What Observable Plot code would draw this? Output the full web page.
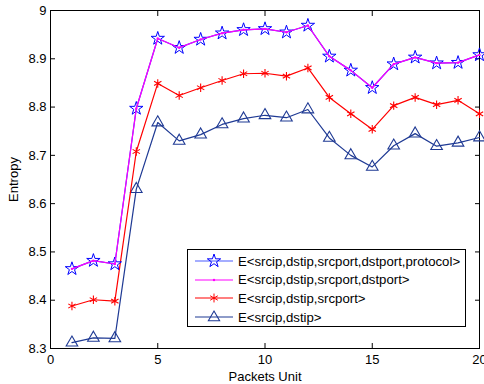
<!DOCTYPE html>
<html><head><meta charset="utf-8">
<script src="https://cdn.jsdelivr.net/npm/d3@7"></script>
<script src="https://cdn.jsdelivr.net/npm/@observablehq/plot@0.6"></script>
<style>
body{margin:0;background:#fff;font-family:"Liberation Sans",Arial,sans-serif;}
#wrap{position:relative;width:484px;height:384px;}
#legend{position:absolute;left:187px;top:249px;width:279px;height:78px;border:1px solid #000;background:#fff;box-sizing:border-box;font-size:13.2px;}
.row{position:absolute;left:0;height:16px;display:flex;align-items:center;white-space:nowrap;}
.row svg{margin-left:7px;margin-right:5px;flex:none;}
</style></head><body>
<div id="wrap"><div id="chart"></div><div id="legend"></div></div>
<script>
const packets = [1,2,3,4,5,6,7,8,9,10,11,12,13,14,15,16,17,18,19,20];
const e5 = [8.465,8.482,8.475,8.797,8.942,8.923,8.940,8.953,8.960,8.962,8.955,8.969,8.905,8.876,8.840,8.889,8.903,8.891,8.892,8.908];
const e4 = [8.465,8.482,8.475,8.797,8.942,8.923,8.940,8.953,8.960,8.962,8.955,8.969,8.905,8.876,8.840,8.889,8.903,8.891,8.892,8.908];
const e3 = [8.388,8.401,8.398,8.708,8.849,8.824,8.840,8.855,8.869,8.870,8.864,8.881,8.820,8.786,8.754,8.803,8.820,8.805,8.814,8.786];
const e2 = [8.312,8.322,8.321,8.630,8.768,8.730,8.743,8.764,8.776,8.783,8.778,8.795,8.736,8.700,8.676,8.720,8.745,8.719,8.726,8.737];
const seriesNames = ["E<srcip,dstip,srcport,dstport,protocol>","E<srcip,dstip,srcport,dstport>","E<srcip,dstip,srcport>","E<srcip,dstip>"];
const xTicks = [0,5,10,15,20];
const yTicks = [8.3,8.4,8.5,8.6,8.7,8.8,8.9,9];

const mk = arr => packets.map((p,i)=>({x:p,y:arr[i]}));
const s5 = mk(e5), s4 = mk(e4), s3 = mk(e3), s2 = mk(e2);
const navy = "#1f3a94";

const chart = Plot.plot({
  width:484, height:384,
  marginLeft:50, marginRight:5, marginTop:10, marginBottom:36,
  style:{fontFamily:"Liberation Sans, Arial, sans-serif", fontSize:"13px", color:"#000", background:"#fff"},
  x:{domain:[0,20]},
  y:{domain:[8.3,9]},
  marks:[
    Plot.frame({stroke:"#000"}),
    Plot.axisX(xTicks,{anchor:"bottom", tickSize:-5, tickPadding:11, label:"Packets Unit", labelAnchor:"center", labelArrow:"none", labelOffset:32, fontSize:13}),
    Plot.axisX(xTicks,{anchor:"top", tickSize:-5, text:null, label:null}),
    Plot.axisY(yTicks,{anchor:"left", tickSize:-5, tickPadding:9, tickFormat:d=>d===9?"9":d.toFixed(1), label:"Entropy", labelAnchor:"center", labelArrow:"none", labelOffset:42, fontSize:13}),
    Plot.axisY(yTicks,{anchor:"right", tickSize:-5, text:null, label:null}),
    Plot.line(s2,{x:"x",y:"y",stroke:navy,strokeWidth:1.2}),
    Plot.dot(s2,{x:"x",y:"y",symbol:"triangle",r:4.3,stroke:navy,fill:"none",strokeWidth:1.1}),
    Plot.line(s3,{x:"x",y:"y",stroke:"#ff0000",strokeWidth:1.2}),
    Plot.dot(s3,{x:"x",y:"y",symbol:"asterisk",r:4,stroke:"#ff0000",strokeWidth:1.1}),
    Plot.line(s5,{x:"x",y:"y",stroke:"#3030ff",strokeWidth:1.2}),
    Plot.dot(s5,{x:"x",y:"y",symbol:"star",r:4.2,stroke:"#0000ff",fill:"none",strokeWidth:1}),
    Plot.line(s4,{x:"x",y:"y",stroke:"#ff00ff",strokeWidth:1.2}),
    Plot.dot(s4,{x:"x",y:"y",r:1.2,fill:"#ff00ff"})
  ]
});
document.getElementById("chart").appendChild(chart);

const legend = document.getElementById("legend");
const swatches = [
  {stroke:"#4a5cff", marker:`<path transform="translate(19,8)" d="${d3.symbol(d3.symbolStar, 55)()}" fill="none" stroke="#0000ff"/>`},
  {stroke:"#ff00ff", marker:`<circle cx="19" cy="8" r="1.2" fill="#ff00ff"/>`},
  {stroke:"#ff0000", marker:`<path transform="translate(19,8)" d="${d3.symbol(d3.symbolAsterisk, 55)()}" fill="none" stroke="#ff0000"/>`},
  {stroke:navy, marker:`<path transform="translate(19,8.5)" d="${d3.symbol(d3.symbolTriangle, 55)()}" fill="none" stroke="${navy}" stroke-width="1.1"/>`}
];
seriesNames.forEach((name,i)=>{
  const row = document.createElement("div");
  row.className="row";
  row.style.top = (3+i*18.7)+"px";
  row.innerHTML = `<svg width="38" height="16"><line x1="0" y1="8" x2="38" y2="8" stroke="${swatches[i].stroke}" stroke-width="1.2"/>${swatches[i].marker}</svg><span></span>`;
  row.querySelector("span").textContent = name;
  legend.appendChild(row);
});
</script>
</body></html>
